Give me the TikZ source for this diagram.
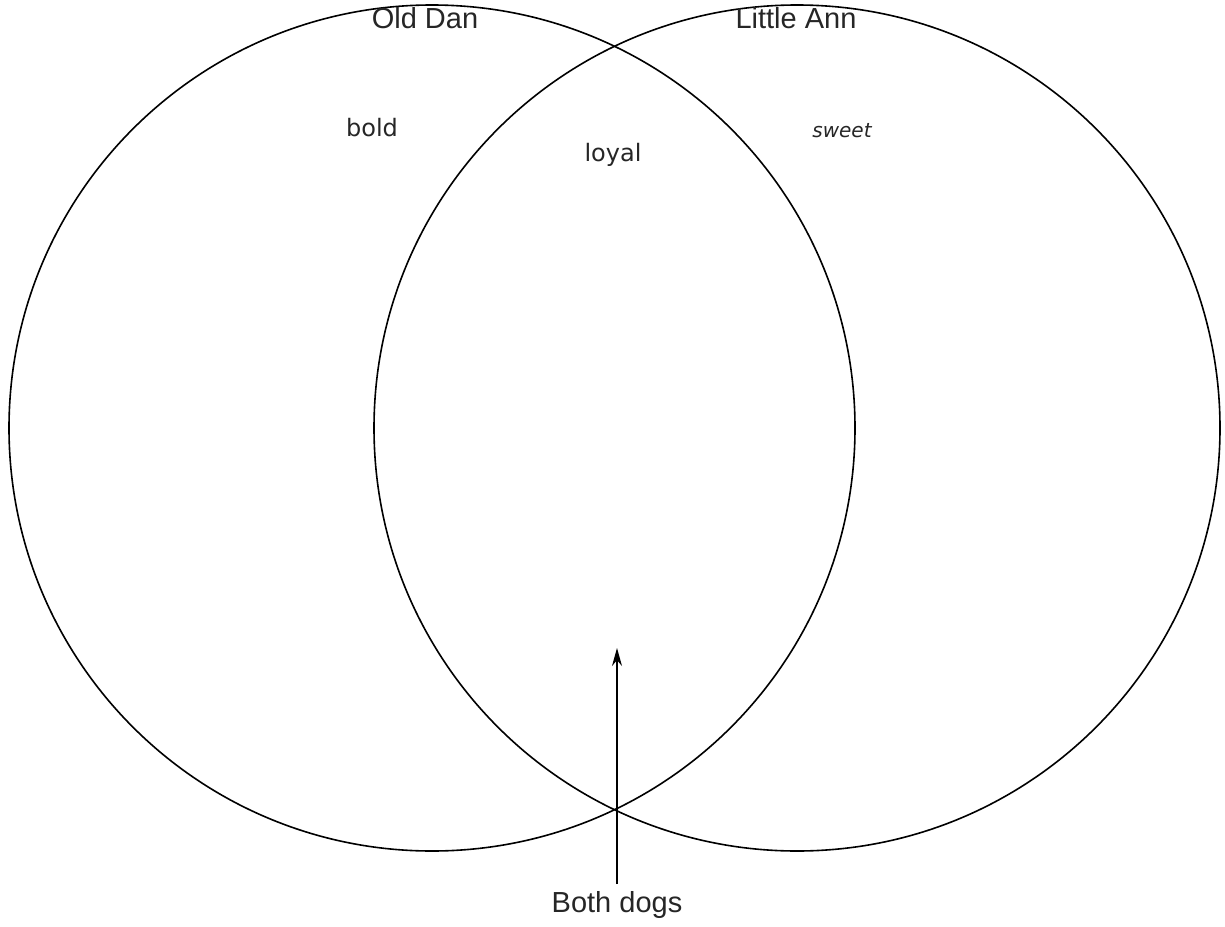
\documentclass[tikz,border=0pt]{standalone}
\usepackage{fontspec}
\usetikzlibrary{arrows.meta}
\setmainfont{Liberation Sans}
\newfontfamily\handfont{DejaVu Sans}
\begin{document}
\begin{tikzpicture}[x=.5pt,y=-.5pt,line width=.8pt,>={Stealth[length=9pt,width=5pt]},
  lbl/.style={font=\fontsize{14.5}{17}\selectfont,text=black!85},
  hand/.style={font=\handfont\fontsize{12}{14}\selectfont,text=black!85}]
\useasboundingbox (0,0) rectangle (1225,926);
\coordinate (dan) at (432,428);
\coordinate (ann) at (797,428);
\draw (dan) circle (423);
\draw (ann) circle (423);
\node[lbl] (olddan) at (425,18) {Old Dan};
\node[lbl] (littleann) at (796,18) {Little Ann};
\node[hand] (bold) at (372,128) {bold};
\node[hand] (loyal) at (613,155) {loyal};
\node[hand,font=\handfont\itshape\fontsize{10}{12}\selectfont] (sweet) at (842,131) {sweet};
\node[lbl] (both) at (617,905) {Both dogs};
\coordinate (tip) at (617,648);
\draw[->,line width=.7pt] (both.north) -- (tip);
\end{tikzpicture}
\end{document}
